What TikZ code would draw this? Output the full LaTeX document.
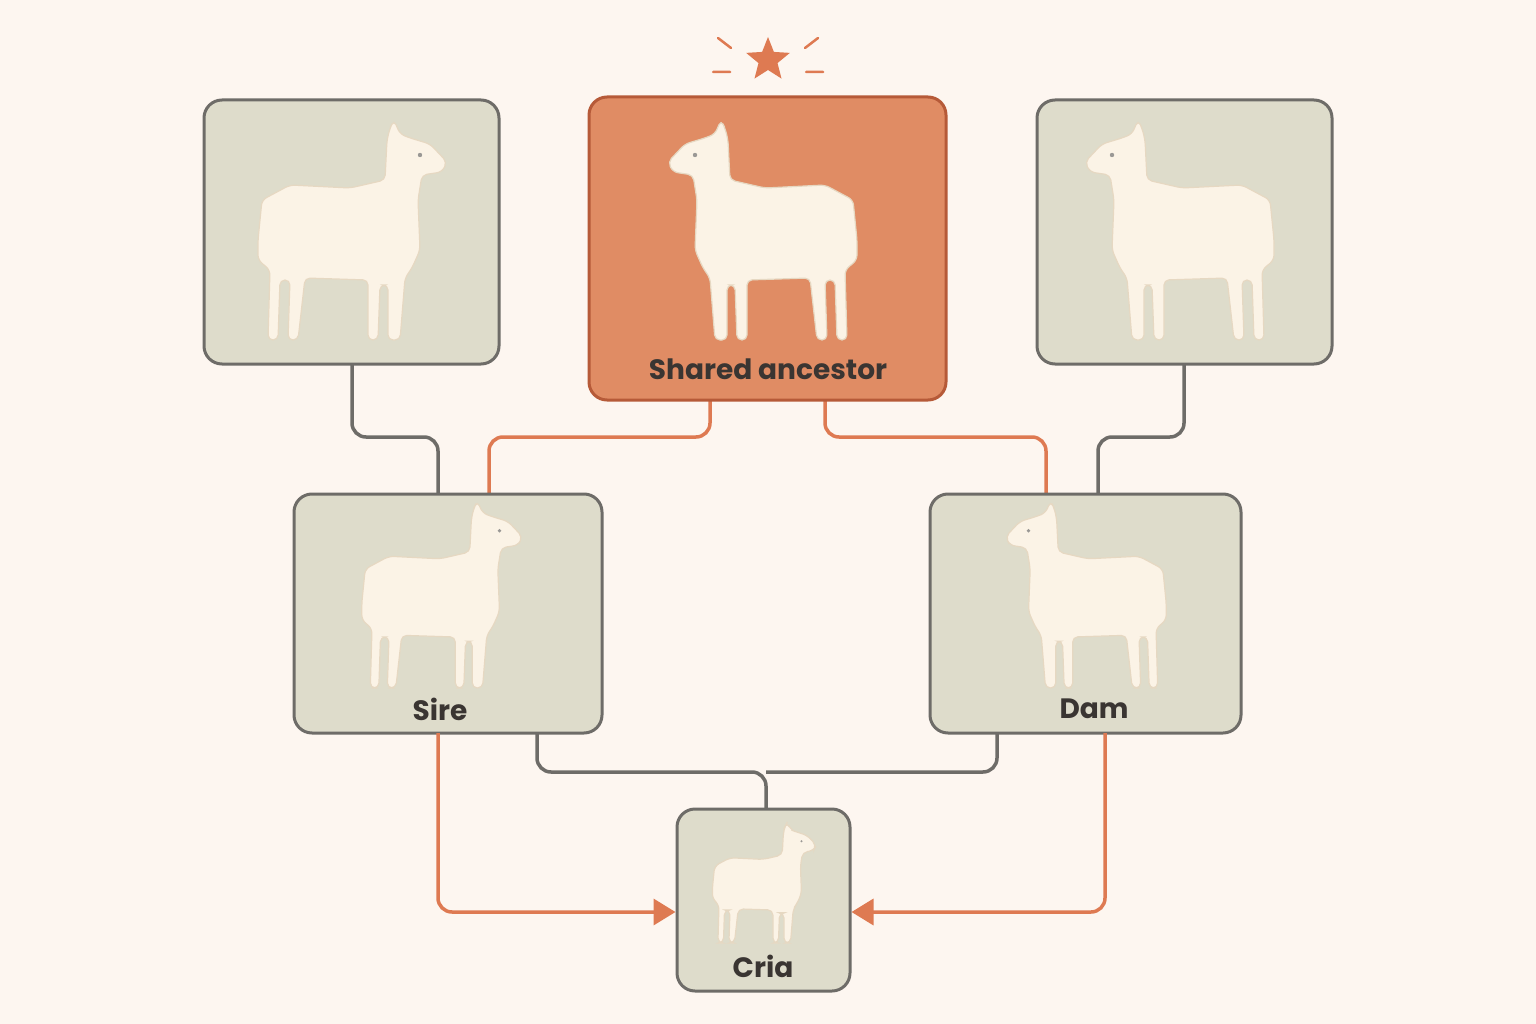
\documentclass[tikz,border=0pt]{standalone}
\usepackage{fontspec}
\setmainfont{Poppins}
\usetikzlibrary{arrows.meta,shapes.geometric}
\definecolor{bg}{HTML}{FDF6F0}
\definecolor{boxfill}{HTML}{DEDCCB}
\definecolor{boxline}{HTML}{6E6C68}
\definecolor{orfill}{HTML}{E08C64}
\definecolor{orline}{HTML}{B65A38}
\definecolor{orcon}{HTML}{DE7A52}
\definecolor{alp}{HTML}{FBF3E6}
\definecolor{alpl}{HTML}{E6D8C2}
\definecolor{txt}{HTML}{3A3532}
\tikzset{
  gbox/.style={draw=boxline,fill=boxfill,line width=3pt,rounded corners=18pt},
  obox/.style={draw=orline,fill=orfill,line width=3pt,rounded corners=18pt},
  gcon/.style={draw=boxline,line width=3.5pt,rounded corners=14pt},
  ocon/.style={draw=orcon,line width=3.5pt,rounded corners=14pt},
  oarr/.style={ocon,-{Triangle[length=22pt,width=26pt]}},
  lbl/.style={font=\fontsize{28}{30}\selectfont\bfseries,text=txt},
  alpaca/.pic={
    \draw[fill=alp,draw=alpl,line width=1.2pt,rounded corners=5pt]
     (-92,100)--(-88,140)--(-60,155)--(0,152)--(35,160)--(37,200)--(40,212)--(44,220)--(50,206)--(60,202)--(80,196)--(97,178)--(92,168)--(72,165)--(68,140)--(70,90)--(62,72)--(55,62)--(50,0)--(38,0)--(38,55)--(30,55)--(28,0)--(18,0)--(18,60)--(-45,62)--(-52,0)--(-62,0)--(-60,60)--(-70,60)--(-72,0)--(-82,0)--(-80,70)--(-92,80)--cycle;
    \fill[boxline!70] (70,185) circle (2.2);
  }
}
\begin{document}
\begin{tikzpicture}[x=1pt,y=-1pt]
\fill[bg] (0,0) rectangle (1536,1024);
\useasboundingbox (0,0) rectangle (1536,1024);
% connectors
\draw[gcon] (352,364) -- (352,437) -- (438,437) -- (438,496);
\draw[gcon] (1184,364) -- (1184,437) -- (1098,437) -- (1098,496);
\draw[ocon] (710,400) -- (710,437) -- (489,437) -- (489,496);
\draw[ocon] (825,400) -- (825,437) -- (1046,437) -- (1046,496);
\draw[gcon] (537,733) -- (537,772) -- (766,772) -- (766,811);
\draw[gcon] (997,733) -- (997,772) -- (766,772);
% boxes
\node[gbox,minimum width=295pt,minimum height=264pt] (tl) at (351.5,232) {};
\node[obox,minimum width=357pt,minimum height=303pt] (sa) at (767.5,248.5) {};
\node[gbox,minimum width=295pt,minimum height=264pt] (tr) at (1184.5,232) {};
\node[gbox,minimum width=308pt,minimum height=239pt] (sire) at (448,613.5) {};
\node[gbox,minimum width=311pt,minimum height=239pt] (dam) at (1085.5,613.5) {};
\node[gbox,minimum width=173pt,minimum height=182pt] (cria) at (763.5,900) {};
\draw[oarr] (438,733) -- (438,912) -- (cria.west |- 0,912);
\draw[oarr] (1105,733) -- (1105,912) -- (cria.east |- 0,912);
% alpacas
\pic[shift={(350,340)},yscale=-1] {alpaca};
\pic[shift={(765,340)},xscale=-1,yscale=-1] {alpaca};
\pic[shift={(1182,340)},xscale=-1,yscale=-1] {alpaca};
\pic[shift={(440,688)},xscale=.85,yscale=-.85] {alpaca};
\pic[shift={(1088,688)},xscale=-.85,yscale=-.85] {alpaca};
\pic[shift={(763,943)},xscale=.55,yscale=-.55] {alpaca};
% labels
\node[lbl] (lsa) at (768,369) {Shared ancestor};
\node[lbl] (lsire) at (440,709) {Sire};
\node[lbl] (ldam) at (1094,709) {Dam};
\node[lbl] (lcria) at (763,966) {Cria};
% star
\node[star,star points=5,star point ratio=2.3,fill=orcon,minimum size=46pt,inner sep=0pt] (st) at (768,60) {};
\draw[orcon,line width=2.5pt,line cap=round] (713,72)--(730,72) (806,72)--(823,72) (718,38)--(731,48) (818,38)--(805,48);
\end{tikzpicture}
\end{document}
